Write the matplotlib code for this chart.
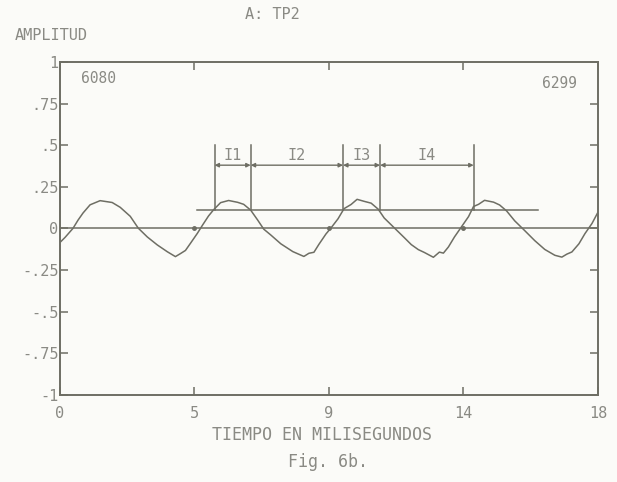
import numpy as np
import matplotlib
matplotlib.use("Agg")
import matplotlib.pyplot as plt

# waveform (ms, amplitude)
t_ms = [0.000, 0.168, 0.437, 0.604, 0.772, 1.007, 1.343, 1.746, 2.015, 2.351,
        2.619, 2.922, 3.257, 3.593, 3.862, 4.030, 4.198, 4.366, 4.601, 4.769,
        4.970, 5.138, 5.373, 5.642, 5.944, 6.146, 6.381, 6.616, 6.817, 7.052,
        7.388, 7.791, 8.160, 8.328, 8.496, 8.664, 8.899, 9.067, 9.302, 9.504,
        9.739, 9.940, 10.175, 10.410, 10.646, 10.847, 11.183, 11.519, 11.754, 11.989,
        12.190, 12.493, 12.694, 12.828, 12.996, 13.198, 13.433, 13.668, 13.836, 14.004,
        14.205, 14.507, 14.709, 14.944, 15.213, 15.549, 15.884, 16.220, 16.556, 16.791,
        16.959, 17.127, 17.362, 17.563, 17.799, 18.000]
amp = [-0.084, -0.054, 0.001, 0.050, 0.093, 0.142, 0.167, 0.156, 0.127, 0.073,
       0.002, -0.051, -0.099, -0.140, -0.169, -0.151, -0.132, -0.089, -0.028, 0.020,
       0.075, 0.112, 0.155, 0.168, 0.157, 0.145, 0.110, 0.050, -0.004, -0.039,
       -0.092, -0.139, -0.168, -0.149, -0.143, -0.095, -0.033, 0.003, 0.058, 0.119,
       0.144, 0.175, 0.163, 0.152, 0.116, 0.063, 0.004, -0.055, -0.097, -0.127,
       -0.144, -0.173, -0.142, -0.148, -0.111, -0.051, 0.010, 0.071, 0.132, 0.145,
       0.169, 0.158, 0.141, 0.105, 0.046, -0.013, -0.073, -0.126, -0.161, -0.172,
       -0.154, -0.141, -0.092, -0.031, 0.030, 0.098]

x_ticks = [0, 4.5, 9, 13.5, 18]
x_labels = ["0", "5", "9", "14", "18"]
y_ticks = [1, 0.75, 0.5, 0.25, 0, -0.25, -0.5, -0.75, -1]
y_labels = ["1", ".75", ".5", ".25", "0", "-.25", "-.5", "-.75", "-1"]

# interval markers
marks = [5.17, 6.38, 9.47, 10.71, 13.84]
interval_names = ["I1", "I2", "I3", "I4"]
threshold = 0.11
threshold_span = [4.57, 16.0]
zero_dots = [4.5, 9, 13.5]

ink = "#6e6e64"
txt = "#8a8a84"
font = "DejaVu Sans Mono"

fig = plt.figure(figsize=(6.17, 4.82), dpi=100, facecolor="#fbfbf8")
ax = fig.add_axes([0.0972, 0.1805, 0.872, 0.691])
ax.set_facecolor("#fbfbf8")

ax.plot(t_ms, amp, color=ink, lw=1.1)
ax.axhline(0, color=ink, lw=1.1)
ax.plot(zero_dots, [0] * len(zero_dots), "o", color=ink, ms=2.5)
ax.plot(threshold_span, [threshold, threshold], color=ink, lw=1.1)

for m in marks:
    ax.plot([m, m], [threshold, 0.5], color=ink, lw=1.1)
for i, name in enumerate(interval_names):
    a, b = marks[i], marks[i + 1]
    ax.annotate("", xy=(a, 0.38), xytext=(b, 0.38),
                arrowprops=dict(arrowstyle="<|-|>", color=ink, lw=1.0,
                                mutation_scale=6, shrinkA=0, shrinkB=0))
    ax.text((a + b) / 2, 0.44, name, ha="center", va="center",
            color=txt, fontsize=11, family=font)

ax.text(0.7, 0.9, "6080", color=txt, fontsize=10.5, family=font, va="center")
ax.text(17.3, 0.87, "6299", color=txt, fontsize=10.5, family=font, va="center", ha="right")

ax.set_xlim(0, 18)
ax.set_ylim(-1, 1)
ax.set_xticks(x_ticks)
ax.set_xticklabels(x_labels, family=font, fontsize=11, color=txt)
ax.set_yticks(y_ticks)
ax.set_yticklabels(y_labels, family=font, fontsize=11, color=txt)
ax.tick_params(axis="both", direction="in", length=6, width=1.1, color=ink,
               top=True, right=True)
ax.tick_params(axis="x", pad=8)
ax.tick_params(axis="y", pad=1)
for s in ax.spines.values():
    s.set_color(ink)
    s.set_linewidth(1.4)

fig.text(0.024, 0.927, "AMPLITUD", color=txt, fontsize=11, family=font, va="center")
fig.text(0.441, 0.969, "A: TP2", color=txt, fontsize=11, family=font, va="center", ha="center")
fig.text(0.522, 0.0975, "TIEMPO EN MILISEGUNDOS", color=txt, fontsize=12, family=font,
         va="center", ha="center")
fig.text(0.532, 0.041, "Fig. 6b.", color=txt, fontsize=12, family=font,
         va="center", ha="center")

fig.savefig("out.png", dpi=100, facecolor=fig.get_facecolor())
